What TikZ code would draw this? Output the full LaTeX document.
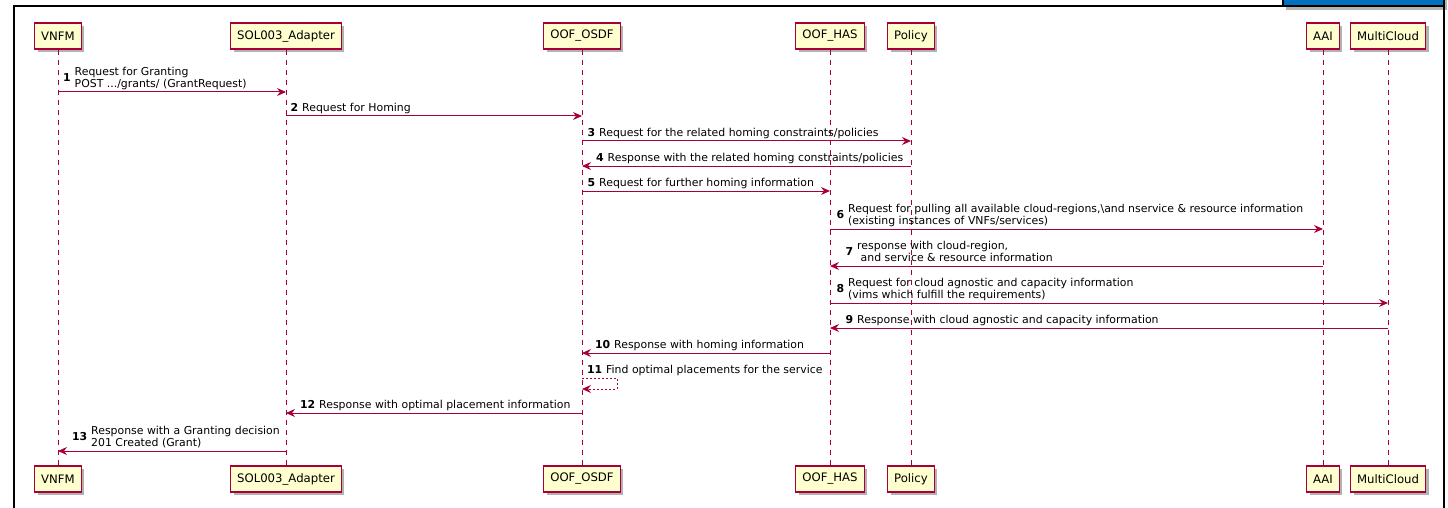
\documentclass[tikz,border=0pt]{standalone}
\usepackage{fontspec}
\setmainfont{DejaVu Sans}
\usetikzlibrary{arrows.meta,shadows,calc}
\definecolor{puml}{HTML}{A80036}
\definecolor{pfill}{HTML}{FEFECE}
\definecolor{tabblue}{HTML}{0070C0}
\begin{document}
\begin{tikzpicture}[x=1pt,y=-1pt,
  part/.style={draw=puml, fill=pfill, line width=1.1pt, minimum height=26pt,
    inner xsep=6.5pt, inner ysep=0pt, font=\fontsize{11.7}{14}\selectfont,
    drop shadow={shadow xshift=3pt, shadow yshift=-3pt, opacity=0.3, fill=black}},
  life/.style={draw=puml, line width=0.8pt, dash pattern=on 5pt off 5pt},
  msgline/.style={draw=puml, line width=1pt, -{Stealth[length=9pt,width=8pt,inset=3pt]}},
  selfline/.style={draw=puml, line width=0.9pt, dash pattern=on 2pt off 2pt, -{Stealth[length=9pt,width=8pt,inset=3pt]}},
  lbl/.style={inner sep=0pt, align=left, anchor=south west, font=\fontsize{10.9}{12.7}\selectfont},
  num/.style={inner sep=0pt, anchor=east, font=\fontsize{10.9}{12.7}\selectfont\bfseries},
  frameline/.style={draw=black, line width=2pt},
]
\path[use as bounding box] (0,0) rectangle (1448,508);
\clip (0,0) rectangle (1448,508);

% frame
\draw[frameline] (14,520) -- (14,6) -- (1283,6);
\draw[frameline] (1444,6) -- (1444,520);
\filldraw[fill=tabblue, draw=black, line width=1.5pt,
  drop shadow={shadow xshift=3pt, shadow yshift=-4pt, opacity=0.3, fill=black}]
  (1283,-8) rectangle (1444,6);

% participants
\foreach \n/\x/\t in {vnfm/58/VNFM, sol/286/SOL003\_Adapter, osdf/582/OOF\_OSDF,
    has/830/OOF\_HAS, pol/911/Policy, aai/1323/AAI, mc/1388/MultiCloud}{
  \node[part] (\n T) at (\x,36) {\t};
  \node[part] (\n B) at (\x,479) {\t};
  \draw[life] (\n T.south) -- (\n B.north);
}

% 1
\draw[msgline] (vnfmT |- 0,92) -- (solT |- 0,92);
\node[lbl] (l1) at ($(vnfmT |- 0,92)+(16.5,0)$) {Request for Granting\\POST .../grants/ (GrantRequest)\strut};
\node[num] at ($(l1.west)+(-3.5,0)$) {1\strut};
% 2
\draw[msgline] (solT |- 0,116) -- (osdfT |- 0,116);
\node[lbl] (l2) at ($(solT |- 0,116)+(16,0)$) {Request for Homing\strut};
\node[num] at ($(l2.west)+(-3.5,0)$) {2\strut};
% 3
\draw[msgline] (osdfT |- 0,141) -- (polT |- 0,141);
\node[lbl] (l3) at ($(osdfT |- 0,141)+(17,0)$) {Request for the related homing constraints/policies\strut};
\node[num] at ($(l3.west)+(-3.5,0)$) {3\strut};
% 4
\draw[msgline] (polT |- 0,166) -- (osdfT |- 0,166);
\node[lbl] (l4) at ($(osdfT |- 0,166)+(25.5,0)$) {Response with the related homing constraints/policies\strut};
\node[num] at ($(l4.west)+(-3.5,0)$) {4\strut};
% 5
\draw[msgline] (osdfT |- 0,191) -- (hasT |- 0,191);
\node[lbl] (l5) at ($(osdfT |- 0,191)+(17,0)$) {Request for further homing information\strut};
\node[num] at ($(l5.west)+(-3.5,0)$) {5\strut};
% 6
\draw[msgline] (hasT |- 0,229) -- (aaiT |- 0,229);
\node[lbl] (l6) at ($(hasT |- 0,229)+(18,0)$) {Request for pulling all available cloud-regions,\textbackslash and nservice \& resource information\\(existing instances of VNFs/services)\strut};
\node[num] at ($(l6.west)+(-3.5,0)$) {6\strut};
% 7
\draw[msgline] (aaiT |- 0,266) -- (hasT |- 0,266);
\node[lbl] (l7) at ($(hasT |- 0,266)+(27,0)$) {response with cloud-region,\\\hspace*{3.5pt}and service \& resource information\strut};
\node[num] at ($(l7.west)+(-3.5,0)$) {7\strut};
% 8
\draw[msgline] (hasT |- 0,303) -- (mcT |- 0,303);
\node[lbl] (l8) at ($(hasT |- 0,303)+(18,0)$) {Request for cloud agnostic and capacity information\\(vims which fulfill the requirements)\strut};
\node[num] at ($(l8.west)+(-3.5,0)$) {8\strut};
% 9
\draw[msgline] (mcT |- 0,328) -- (hasT |- 0,328);
\node[lbl] (l9) at ($(hasT |- 0,328)+(27,0)$) {Response with cloud agnostic and capacity information\strut};
\node[num] at ($(l9.west)+(-3.5,0)$) {9\strut};
% 10
\draw[msgline] (hasT |- 0,353) -- (osdfT |- 0,353);
\node[lbl] (l10) at ($(osdfT |- 0,353)+(32,0)$) {Response with homing information\strut};
\node[num] at ($(l10.west)+(-3.5,0)$) {10\strut};
% 11
\draw[selfline] (osdfT |- 0,378) -- ++(35,0) -- ++(0,11) -- (osdfT |- 0,389);
\node[lbl] (l11) at ($(osdfT |- 0,378)+(24,0)$) {Find optimal placements for the service\strut};
\node[num] at ($(l11.west)+(-3.5,0)$) {11\strut};
% 12
\draw[msgline] (osdfT |- 0,413) -- (solT |- 0,413);
\node[lbl] (l12) at ($(solT |- 0,413)+(33,0)$) {Response with optimal placement information\strut};
\node[num] at ($(l12.west)+(-3.5,0)$) {12\strut};
% 13
\draw[msgline] (solT |- 0,451) -- (vnfmT |- 0,451);
\node[lbl] (l13) at ($(vnfmT |- 0,451)+(33,0)$) {Response with a Granting decision\\201 Created (Grant)\strut};
\node[num] at ($(l13.west)+(-3.5,0)$) {13\strut};
\end{tikzpicture}
\end{document}
